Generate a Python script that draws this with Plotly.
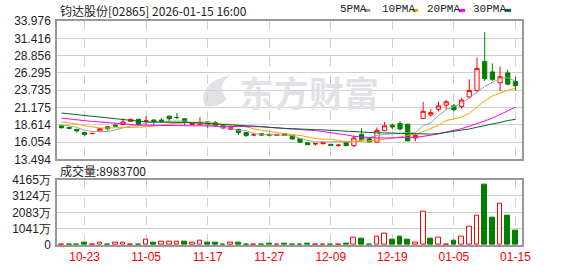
import plotly.graph_objects as go

# ---------------- data ----------------
dates = ["10-20","10-21","10-22","10-23","10-24","10-27","10-28","10-30","10-31","11-03",
         "11-04","11-05","11-06","11-07","11-10","11-11","11-12","11-13","11-14","11-17",
         "11-18","11-19","11-20","11-21","11-24","11-25","11-26","11-27","11-28","12-01",
         "12-02","12-03","12-04","12-05","12-08","12-09","12-10","12-11","12-12","12-15",
         "12-16","12-17","12-18","12-19","12-22","12-23","12-24","12-29","12-30","12-31",
         "01-02","01-05","01-06","01-07","01-08","01-09","01-12","01-13","01-14","01-15"]

open_ = [18.47,18.23,17.95,17.48,17.33,17.72,18.33,18.57,18.66,19.14,
         19.43,19.17,19.33,19.33,19.90,19.72,19.51,18.66,18.66,19.04,
         18.94,18.47,17.95,17.95,17.48,17.12,17.29,17.19,17.05,17.29,
         17.05,16.58,15.96,15.80,15.81,15.73,15.56,16.05,15.53,17.19,
         16.58,16.05,17.76,18.57,18.80,18.71,16.67,19.57,20.08,20.93,
         21.53,21.42,21.32,22.74,23.69,28.00,26.44,24.83,26.30,25.02]
high = [18.54,18.33,18.00,17.55,17.43,18.09,18.40,18.80,19.57,19.57,
        19.54,19.90,19.43,19.61,19.97,20.36,19.61,18.86,19.71,19.11,
        19.18,18.54,18.47,18.00,17.52,17.43,17.43,17.38,17.21,17.33,
        17.09,16.62,16.01,15.96,16.01,15.81,15.81,16.13,17.05,18.13,
        16.62,18.23,19.07,18.80,19.18,18.76,17.24,22.03,20.93,22.03,
        22.27,21.70,22.60,25.34,28.53,32.31,27.72,27.25,26.77,25.73]
low = [18.05,17.95,17.48,16.95,17.19,17.62,17.76,18.33,18.65,19.04,
       18.61,18.57,18.57,18.94,19.08,19.43,18.57,18.62,18.57,18.09,
       18.33,17.95,17.90,17.09,16.81,16.95,16.95,17.01,17.04,16.98,
       16.41,15.96,15.63,15.53,15.80,15.49,15.39,15.49,15.30,16.24,
       16.05,15.91,17.72,18.00,17.76,16.23,16.20,19.56,19.85,20.61,
       20.85,20.61,20.99,22.50,23.45,25.11,25.11,23.59,24.45,23.69]
close = [18.19,18.09,17.72,17.19,17.35,18.05,18.03,18.43,19.04,19.43,
         18.66,19.19,19.08,19.14,19.51,19.70,19.08,18.80,18.94,18.57,
         18.47,18.15,18.23,17.48,17.05,17.15,17.09,17.09,17.19,17.05,
         16.52,16.05,15.67,15.83,15.96,15.59,15.60,15.53,16.67,16.38,
         16.10,17.80,18.47,18.29,18.00,16.24,17.05,20.61,20.42,21.42,
         22.03,20.85,22.27,23.69,26.96,25.44,25.34,25.73,24.63,24.40]

ma5 = [18.57,18.47,18.23,17.80,17.62,17.62,17.62,17.86,18.15,18.47,
       18.47,18.94,18.94,18.94,19.14,19.18,19.18,18.94,18.76,18.57,
       18.47,18.15,18.15,17.76,17.76,17.29,17.15,17.15,17.15,17.15,
       17.05,16.58,16.34,16.10,16.10,16.10,16.10,16.01,16.10,16.38,
       16.67,17.05,17.19,17.29,17.29,17.43,17.48,18.47,18.94,19.99,
       20.85,21.32,21.79,22.60,23.50,24.30,24.90,25.50,25.60,25.05]
ma10 = [19.04,18.90,18.76,18.47,18.26,18.15,18.15,18.15,18.19,18.23,
        18.26,18.33,18.40,18.54,18.76,18.83,18.97,19.04,19.04,18.97,
        18.83,18.71,18.69,18.57,18.33,18.00,17.80,17.62,17.43,17.29,
        17.15,17.05,16.81,16.58,16.48,16.48,16.30,16.10,16.10,16.15,
        16.20,16.34,16.48,16.62,16.81,17.05,17.26,17.62,18.05,18.54,
        19.25,19.47,19.75,20.32,21.18,22.17,22.88,23.31,23.74,24.02]
ma20 = [19.61,19.47,19.33,19.18,19.11,19.04,18.97,18.86,18.76,18.66,
        18.57,18.54,18.54,18.52,18.47,18.47,18.47,18.47,18.47,18.43,
        18.37,18.37,18.37,18.37,18.37,18.37,18.33,18.23,18.15,18.09,
        18.05,17.95,17.90,17.76,17.62,17.48,17.33,17.12,16.91,16.81,
        16.72,16.67,16.67,16.67,16.67,16.72,16.77,16.91,17.05,17.26,
        17.55,17.76,18.05,18.40,18.76,19.18,19.61,20.11,20.68,21.25]
ma30 = [20.36,20.24,20.12,19.95,19.84,19.71,19.61,19.43,19.33,19.23,
        19.14,19.04,19.04,19.04,19.04,19.04,19.00,18.94,18.90,18.86,
        18.76,18.66,18.57,18.52,18.47,18.43,18.33,18.29,18.19,18.09,
        18.05,17.97,17.95,17.90,17.86,17.80,17.72,17.62,17.52,17.48,
        17.43,17.43,17.43,17.43,17.38,17.33,17.29,17.24,17.24,17.33,
        17.48,17.62,17.76,18.00,18.26,18.47,18.76,18.97,19.25,19.43]

volume = [450000,550000,550000,1200000,400000,1800000,500000,1800000,1800000,450000,
          550000,3400000,1200000,2400000,2400000,2400000,2000000,1200000,2800000,1200000,
          1200000,500000,1800000,1200000,550000,400000,550000,600000,450000,600000,
          550000,550000,600000,450000,450000,550000,450000,600000,4600000,4200000,
          550000,5200000,7000000,3600000,5400000,3600000,1800000,21400000,4200000,4600000,
          500000,3000000,5200000,11800000,19000000,38400000,17400000,26200000,18800000,8983700]
vol_up = [1,0,0,0,1,1,0,1,1,1,
          0,1,0,1,1,1,0,1,1,0,
          0,0,1,0,0,1,0,0,1,0,
          0,0,0,1,1,0,1,0,1,0,
          0,1,1,0,0,0,1,1,0,1,
          1,0,1,1,1,0,0,1,0,0]

price_ticks = [13.494,16.054,18.614,21.175,23.735,26.295,28.856,31.416,33.976]
price_labels = ["13.494","16.054","18.614","21.175","23.735","26.295","28.856","31.416","33.976"]
vol_ticks = [0,10410000,20830000,31240000,41650000]
vol_labels = ["0","1041万","2083万","3124万","4165万"]
date_ticks = ["10-23","11-05","11-17","11-27","12-09","12-19","01-05","01-15"]

title_text = "钧达股份[02865] 2026-01-15 16:00"
vol_title = "成交量:8983700"
ma_names = ["5PMA","10PMA","20PMA","30PMA"]
watermark = "东方财富"

# ---------------- style ----------------
RED = "#ff0000"
GREEN = "#008000"
MA_COLORS = ["#a0a0a0", "#f5a300", "#ff00ff", "#00662a"]
GRID = "#d0d0d0"
BORDER = "#999999"
WM = "#e2e2e6"
W, H = 578, 276
ML, MR, MT, MB = 56, 56, 21, 22
PW, PH = W - ML - MR, H - MT - MB

def px(x):
    return (x - ML) / PW

def py(y):
    return (H - MB - y) / PH

idx = list(range(len(dates)))
tick_idx = [dates.index(d) for d in date_ticks]

fig = go.Figure()

for name, vals, col in zip(ma_names, [ma5, ma10, ma20, ma30], MA_COLORS):
    fig.add_trace(go.Scatter(x=idx, y=vals, mode="lines", name=name,
                             line=dict(color=col, width=1), xaxis="x", yaxis="y",
                             hoverinfo="skip", showlegend=False))

fig.add_trace(go.Candlestick(
    x=idx, open=open_, high=high, low=low, close=close,
    increasing=dict(line=dict(color=RED, width=1), fillcolor="#ffffff"),
    decreasing=dict(line=dict(color=GREEN, width=1), fillcolor=GREEN),
    whiskerwidth=0, xaxis="x", yaxis="y", showlegend=False, hoverinfo="skip"))

fig.add_trace(go.Bar(
    x=idx, y=volume, xaxis="x2", yaxis="y2", width=0.62,
    marker=dict(color=["#ffffff" if u else GREEN for u in vol_up],
                line=dict(color=[RED if u else GREEN for u in vol_up], width=1)),
    showlegend=False, hoverinfo="skip"))

xr = [-0.58, 59.85]
axis_font = dict(family="Liberation Sans, Arial", size=12, color="#222222")
common_x = dict(range=xr, tickvals=tick_idx, ticktext=date_ticks, showgrid=True,
                gridcolor=GRID, griddash="dash", gridwidth=1, showline=True,
                linecolor=BORDER, linewidth=1.5, mirror=True, zeroline=False,
                ticks="", fixedrange=True)

fig.update_layout(
    width=W, height=H,
    margin=dict(l=ML, r=MR, t=MT, b=MB),
    paper_bgcolor="#ffffff", plot_bgcolor="#ffffff",
    boxgap=0.22,
    bargap=0,
    xaxis=dict(**common_x, anchor="y", showticklabels=False,
               rangeslider=dict(visible=False)),
    xaxis2=dict(**common_x, anchor="y2", matches="x", showticklabels=True,
                tickfont=dict(family="Liberation Sans, Arial", size=12, color=RED)),
    yaxis=dict(domain=[py(165), 1], range=[price_ticks[0], price_ticks[-1]],
               tickvals=price_ticks, ticktext=price_labels, showgrid=True,
               gridcolor=GRID, gridwidth=1, showline=True, linecolor=BORDER,
               linewidth=1.5, mirror=True, zeroline=False, tickfont=axis_font,
               ticks="outside", ticklen=2, tickcolor="rgba(0,0,0,0)"),
    yaxis2=dict(domain=[0, py(186)], range=[0, vol_ticks[-1]],
                tickvals=vol_ticks, ticktext=vol_labels, showgrid=True,
                gridcolor=GRID, gridwidth=1, showline=True, linecolor=BORDER,
                linewidth=1.5, mirror=True, zeroline=False, tickfont=axis_font,
                ticks="outside", ticklen=2, tickcolor="rgba(0,0,0,0)"),
    showlegend=False,
)

ann = []
ann.append(dict(text=title_text, x=px(57), y=py(10), xref="paper", yref="paper",
                xanchor="left", yanchor="middle", showarrow=False,
                font=dict(family="Noto Sans CJK SC", size=12, color="#222222")))
ann.append(dict(text=vol_title, x=px(57), y=py(177), xref="paper", yref="paper",
                xanchor="left", yanchor="middle", showarrow=False,
                font=dict(family="Noto Sans CJK SC", size=12, color="#222222")))
ann.append(dict(text="<b>" + watermark + "</b>", x=px(309), y=py(94), xref="paper", yref="paper",
                xanchor="center", yanchor="middle", showarrow=False,
                font=dict(family="Noto Sans CJK SC", size=35, color=WM)))

legend_x = [338, 380, 425, 471]
swatch_x = [364, 412, 459, 505]
shapes = []
# watermark logo (decorative swoosh)
logo_path = "M {},{} Q {},{} {},{} Q {},{} {},{} Q {},{} {},{} Z".format(
    px(204), py(110), px(196), py(86), px(230), py(77),
    px(214), py(90), px(226), py(101),
    px(222), py(110), px(204), py(110))
shapes.append(dict(type="path", xref="paper", yref="paper", path=logo_path,
                   fillcolor=WM, line=dict(width=0), layer="below"))
for name, lx, sx, col in zip(ma_names, legend_x, swatch_x, MA_COLORS):
    ann.append(dict(text=name, x=px(lx), y=py(9), xref="paper", yref="paper",
                    xanchor="left", yanchor="middle", showarrow=False,
                    font=dict(family="Liberation Mono", size=11, color="#222222")))
    shapes.append(dict(type="line", xref="paper", yref="paper",
                       x0=px(sx), x1=px(sx + 6), y0=py(10), y1=py(10),
                       line=dict(color=col, width=3)))

fig.update_layout(annotations=ann, shapes=shapes)
fig.write_html("out.html")
